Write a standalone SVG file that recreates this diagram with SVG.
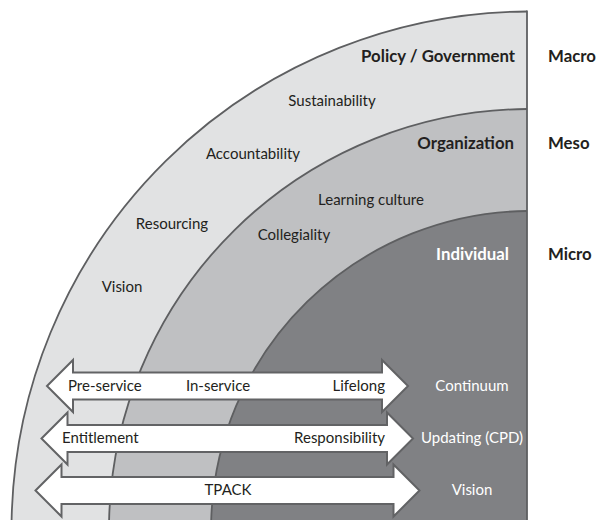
<svg xmlns="http://www.w3.org/2000/svg" width="596" height="520" viewBox="0 0 596 520">
  <style>
    .band-outer { fill: #e1e2e3; }
    .band-mid { fill: #bfc0c2; }
    .band-inner { fill: #808184; }
    .edge { fill: none; stroke: #5e5f61; stroke-width: 1.8; }
    .arrow { fill: #ffffff; stroke: #626365; stroke-width: 2; stroke-linejoin: miter; }
    text { font-family: Lato, "Open Sans", "Liberation Sans", sans-serif; font-size: 15px; fill: #231f20; }
    .head { font-weight: bold; font-size: 16.8px; }
    .white { fill: #ffffff; }
  </style>

  <!-- concentric bands, centre (530,530) -->
  <g id="macro-band">
    <path class="band-outer" d="M527,520 L527,11.5 A518.5,518.5 0 0 0 11.6,520 Z"/>
    <path class="edge" d="M527,11.5 A518.5,518.5 0 0 0 11.6,520"/>
  </g>
  <g id="meso-band">
    <path class="band-mid" d="M527,520 L527,109 A421,421 0 0 0 109.1,520 Z"/>
    <path class="edge" d="M527,109 A421,421 0 0 0 109.1,520"/>
  </g>
  <g id="micro-band">
    <path class="band-inner" d="M527,520 L527,211 A319,319 0 0 0 211.2,520 Z"/>
    <path class="edge" d="M527,211 A319,319 0 0 0 211.2,520"/>
  </g>
  <line class="edge" x1="527" y1="10.5" x2="527" y2="520"/>

  <!-- band labels -->
  <g id="labels-macro">
    <text class="head" x="515" y="62" text-anchor="end">Policy / Government</text>
    <text x="332" y="106" text-anchor="middle">Sustainability</text>
    <text x="253" y="159" text-anchor="middle">Accountability</text>
    <text x="172" y="229" text-anchor="middle">Resourcing</text>
    <text x="122" y="292" text-anchor="middle">Vision</text>
  </g>
  <g id="labels-meso">
    <text class="head" x="514" y="149" text-anchor="end">Organization</text>
    <text x="371" y="205" text-anchor="middle">Learning culture</text>
    <text x="294" y="240" text-anchor="middle">Collegiality</text>
  </g>
  <g id="labels-micro">
    <text class="head white" x="509" y="260" text-anchor="end">Individual</text>
  </g>

  <!-- level names -->
  <g id="levels">
    <text class="head" x="548" y="62">Macro</text>
    <text class="head" x="548" y="149">Meso</text>
    <text class="head" x="548" y="260">Micro</text>
  </g>

  <!-- double-headed arrows -->
  <g id="connectors">
    <polygon class="arrow" points="47,386 73,360 73,372.5 382,372.5 382,360 408,386 382,412 382,399.5 73,399.5 73,412"/>
    <polygon class="arrow" points="41.5,438.5 67.5,412.5 67.5,425 387,425 387,412.5 413,438.5 387,464.5 387,452 67.5,452 67.5,464.5"/>
    <polygon class="arrow" points="35.5,490.5 61.5,464.5 61.5,477 393.5,477 393.5,464.5 419.5,490.5 393.5,516.5 393.5,504 61.5,504 61.5,516.5"/>
  </g>

  <g id="arrow-continuum">
    <text x="68" y="391">Pre-service</text>
    <text x="218" y="391" text-anchor="middle">In-service</text>
    <text x="385" y="391" text-anchor="end">Lifelong</text>
    <text class="white" x="472" y="391" text-anchor="middle">Continuum</text>
  </g>
  <g id="arrow-updating">
    <text x="62" y="443">Entitlement</text>
    <text x="385" y="443" text-anchor="end">Responsibility</text>
    <text class="white" x="472" y="443" text-anchor="middle">Updating (CPD)</text>
  </g>
  <g id="arrow-vision">
    <text x="228" y="495" text-anchor="middle">TPACK</text>
    <text class="white" x="472" y="495" text-anchor="middle">Vision</text>
  </g>
</svg>
